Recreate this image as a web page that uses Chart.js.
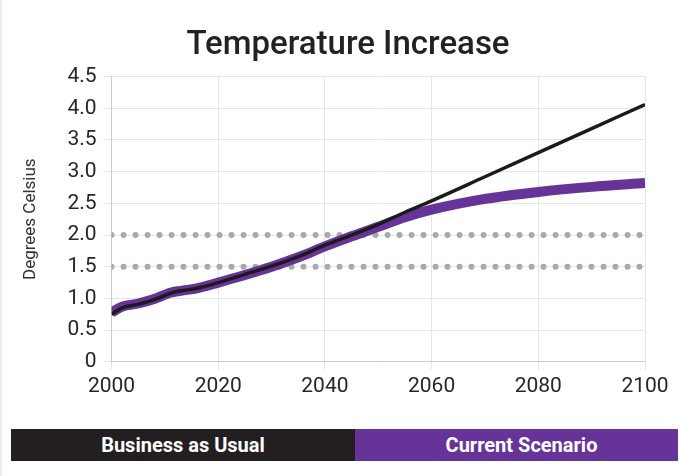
<!DOCTYPE html>
<html>
<head>
<meta charset="utf-8">
<script src="https://cdn.jsdelivr.net/npm/chart.js@4/dist/chart.umd.min.js"></script>
<style>
  body { margin: 0; background: #fff; font-family: Roboto, sans-serif; }
  #wrap { position: relative; width: 683px; height: 476px; border-left: 2px solid #eee; box-sizing: border-box; }
  #box { position: absolute; left: -2px; top: 0; width: 683px; height: 412px; }
  .key { position: absolute; top: 429px; height: 32px; line-height: 32px; color: #fff; font-weight: 700; font-size: 20px; text-align: center; letter-spacing: 0; box-sizing: border-box; }
</style>
</head>
<body>
<div id="wrap">
  <div id="box"><canvas id="tempChart"></canvas></div>
  <div class="key" id="keyBau" style="left:9px;width:344px;background:#231f20;"></div>
  <div class="key" id="keyCur" style="left:353px;width:323px;padding-left:10px;background:#663399;"></div>
</div>
<script>
(() => {
  const years = [2000, 2002, 2005, 2008, 2011, 2013, 2016, 2020, 2025, 2030, 2035, 2040, 2045, 2050, 2055, 2060, 2070, 2080, 2090, 2100];
  const currentScenario = [0.78, 0.87, 0.92, 0.99, 1.09, 1.12, 1.16, 1.25, 1.37, 1.50, 1.65, 1.82, 1.98, 2.13, 2.28, 2.40, 2.57, 2.68, 2.76, 2.82];
  const businessAsUsual = [0.75, 0.85, 0.91, 0.98, 1.08, 1.12, 1.16, 1.25, 1.38, 1.51, 1.66, 1.84, 2.00, 2.17, 2.36, 2.54, 2.92, 3.30, 3.68, 4.06];
  const thresholdYears = [2000, 2100];
  const limit15 = [1.5, 1.5];
  const limit20 = [2.0, 2.0];
  const seriesNames = ['Business as Usual', 'Current Scenario'];

  document.getElementById('keyBau').textContent = seriesNames[0];
  document.getElementById('keyCur').textContent = seriesNames[1];

  const pts = (xs, ys) => xs.map((x, i) => ({ x, y: ys[i] }));
  const dotted = {
    borderColor: '#a9a9a9', borderWidth: 6, borderDash: [0, 12], borderCapStyle: 'round',
    pointRadius: 0, fill: false, order: 5
  };

  const ctx = document.getElementById('tempChart').getContext('2d');
  new Chart(ctx, {
    type: 'line',
    data: {
      datasets: [
        { label: seriesNames[0], data: pts(years, businessAsUsual), borderColor: '#1c1a1b', borderWidth: 3.5, pointRadius: 0, cubicInterpolationMode: 'monotone', order: 1 },
        { label: seriesNames[1], data: pts(years, currentScenario), borderColor: '#663399', borderWidth: 10, pointRadius: 0, cubicInterpolationMode: 'monotone', order: 2 },
        Object.assign({ label: '2.0', data: pts(thresholdYears, limit20) }, dotted),
        Object.assign({ label: '1.5', data: pts(thresholdYears, limit15) }, dotted)
      ]
    },
    options: {
      responsive: true,
      maintainAspectRatio: false,
      animation: false,
      layout: { padding: { left: 51, right: 38, top: 0, bottom: 9 } },
      plugins: {
        legend: { display: false },
        tooltip: { enabled: false },
        title: {
          display: true, text: 'Temperature Increase', color: '#222',
          font: { family: 'Roboto', size: 33, weight: '500' }, padding: { top: 26, bottom: 11 }
        }
      },
      scales: {
        x: {
          type: 'linear', min: 2000, max: 2100,
          ticks: { stepSize: 20, color: '#262626', font: { family: 'Roboto', size: 21 }, padding: 4, maxRotation: 0,
            callback: v => String(v) },
          grid: { color: '#e6e6e6', tickLength: 8 },
          border: { color: '#cccccc' }
        },
        y: {
          min: 0, max: 4.5,
          ticks: { stepSize: 0.5, color: '#262626', font: { family: 'Roboto', size: 21 }, padding: 7,
            callback: v => v === 0 ? '0' : v.toFixed(1) },
          grid: { color: '#e6e6e6', tickLength: 8 },
          border: { color: '#cccccc' },
          title: { display: true, text: 'Degrees Celsius', color: '#333', font: { family: 'Roboto', size: 17 }, padding: { top: -30, bottom: 19 } }
        }
      }
    }
  });
})();
</script>
</body>
</html>
